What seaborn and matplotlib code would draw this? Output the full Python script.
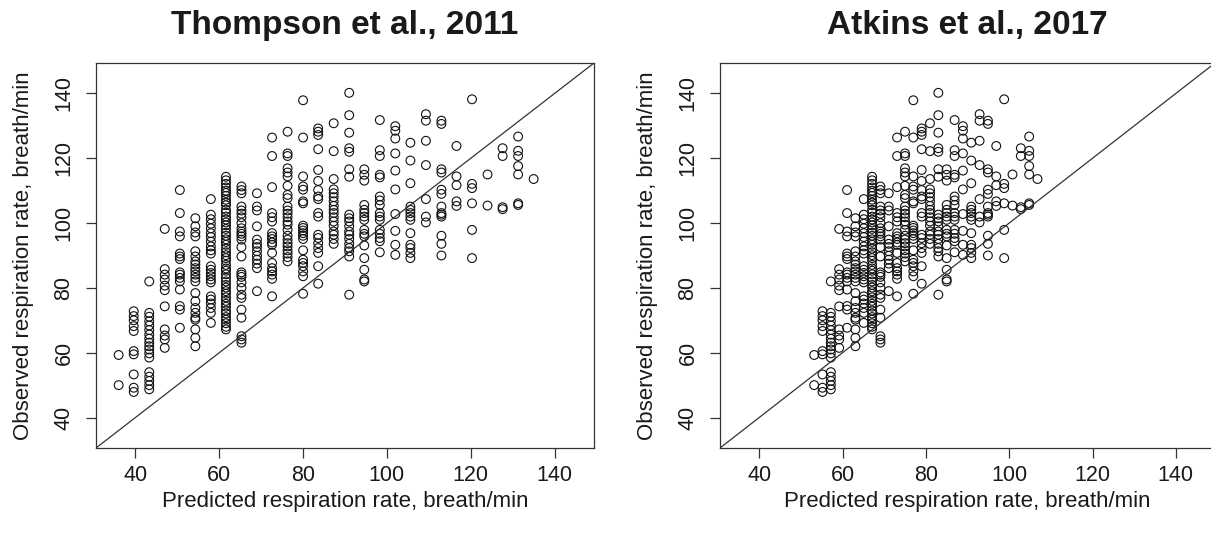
import numpy as np
import pandas as pd
import matplotlib
matplotlib.use("Agg")
import matplotlib.pyplot as plt
import seaborn as sns

# Predicted respiration rate levels (breath/min), one per column of points
thompson_levels = [36.0, 39.6, 43.3, 47.0, 50.6, 54.3, 58.0, 61.6, 65.3, 69.0,
                   72.6, 76.3, 80.0, 83.6, 87.3, 91.0, 94.6, 98.3, 102.0, 105.6,
                   109.3, 113.0, 116.6, 120.3, 124.0, 127.6, 131.3, 135.0]
atkins_levels = [53.2, 55.2, 57.2, 59.2, 61.1, 63.1, 65.1, 67.1, 69.1, 71.1,
                 73.1, 75.0, 77.0, 79.0, 81.0, 83.0, 85.0, 86.9, 88.9, 90.9,
                 92.9, 94.9, 96.9, 98.8, 100.8, 102.8, 104.8, 106.8]
# number of observations at each predicted level
counts = [2, 10, 18, 11, 15, 22, 23, 48, 27, 13, 18, 24, 20, 18, 17, 19, 16, 16,
          10, 13, 7, 13, 5, 6, 2, 4, 7, 1]
# observed respiration rate (breath/min), grouped by level in order
observed = [
    59.3, 50.0,
    72.8, 71.3, 70.0, 68.2, 66.7, 60.5, 59.5, 53.3, 49.2, 47.9,
    82.0, 72.3, 71.1, 69.7, 68.4, 67.0, 65.6, 64.3, 63.1, 62.0, 61.0, 59.8, 58.5,
    54.0, 52.6, 51.3, 50.0, 48.7,
    98.2, 85.8, 84.1, 82.6, 80.7, 79.3, 74.3, 67.2, 65.3, 64.1, 61.5,
    110.2, 103.1, 97.4, 95.9, 90.6, 89.7, 88.9, 84.8, 84.1, 83.1, 82.0, 79.5, 74.4,
    73.3, 67.7,
    101.5, 99.0, 97.1, 95.9, 91.3, 89.7, 88.2, 87.2, 86.1, 85.1, 84.1, 83.1, 82.0,
    78.4, 75.9, 73.8, 72.3, 70.8, 70.2, 67.2, 64.6, 62.0,
    107.4, 102.6, 101.2, 99.8, 98.4, 96.9, 95.7, 94.3, 92.8, 91.6, 90.6, 86.7, 85.6,
    84.6, 83.6, 82.6, 81.7, 77.4, 76.4, 75.2, 73.8, 72.3, 69.2,
    114.3, 113.2, 112.1, 111.0, 110.0, 109.3, 108.4, 107.2, 106.3, 105.5,
    104.1, 103.2, 102.0, 101.1, 100.2, 99.3, 98.2, 97.0, 96.1, 95.0,
    94.2, 93.3, 92.1, 91.0, 90.1, 89.2, 88.4, 87.1, 86.0, 85.3,
    84.2, 83.1, 82.0, 80.9, 80.1, 79.0, 78.2, 77.1, 76.0, 75.1,
    74.2, 73.0, 72.1, 71.0, 70.2, 69.1, 68.0, 67.2,
    111.3, 110.2, 109.2, 105.1, 103.9, 102.9, 101.8, 100.0, 98.4, 97.4,
    96.7, 95.9, 94.9, 92.6, 89.7, 84.8, 84.1, 83.4, 81.7, 80.0,
    77.9, 76.9, 73.3, 70.8, 65.1, 64.1, 63.1,
    109.2, 105.1, 103.9, 99.0, 94.9, 93.6, 92.6, 91.3, 89.9, 88.7, 87.5, 86.1, 79.0,
    126.4, 120.7, 111.1, 103.1, 101.8, 100.5, 96.9, 95.9, 95.1, 94.0,
    93.3, 90.8, 87.7, 86.1, 85.1, 84.1, 82.8, 77.4,
    128.2, 121.5, 120.7, 116.9, 115.6, 114.4, 111.5, 108.7, 107.7, 105.1,
    103.9, 102.9, 101.8, 100.5, 99.5, 97.9, 96.1, 94.9, 93.8, 92.8,
    91.6, 90.6, 89.5, 88.2,
    137.9, 126.4, 114.4, 111.3, 110.3, 106.7, 106.1, 99.2, 98.5, 97.7,
    96.9, 96.1, 95.1, 91.6, 88.7, 87.7, 86.7, 85.1, 83.6, 78.2,
    129.2, 128.2, 127.2, 122.8, 116.4, 113.0, 110.2, 108.2, 107.4, 103.1,
    102.0, 96.4, 95.4, 93.8, 92.3, 90.8, 86.7, 81.3,
    130.8, 122.2, 113.6, 110.4, 109.2, 108.0, 106.7, 105.3, 104.1, 103.1,
    101.8, 100.5, 99.2, 97.4, 96.4, 95.1, 93.6,
    140.2, 133.3, 127.9, 123.1, 122.0, 116.6, 114.3, 102.6, 101.5, 100.5,
    99.0, 97.4, 96.4, 95.1, 93.6, 92.3, 91.3, 89.7, 77.9,
    116.6, 114.9, 113.1, 105.6, 104.1, 103.1, 102.0, 101.0, 97.9, 96.7,
    95.9, 93.1, 89.2, 85.6, 82.6, 82.0,
    131.8, 122.5, 120.7, 114.9, 114.1, 108.2, 107.0, 105.6, 103.1, 102.0,
    101.0, 97.9, 96.7, 95.4, 94.4, 91.0,
    129.9, 128.5, 126.1, 121.5, 116.2, 110.4, 102.8, 97.6, 93.3, 90.2,
    124.8, 119.3, 112.3, 105.1, 104.1, 103.1, 102.0, 101.0, 96.9, 93.3,
    92.3, 90.8, 89.2,
    133.6, 131.6, 125.4, 117.9, 107.4, 102.0, 100.2,
    131.6, 130.6, 116.6, 115.6, 110.3, 109.0, 105.1, 103.1, 102.6, 102.0,
    96.1, 93.6, 90.0,
    123.8, 114.4, 111.7, 106.7, 105.3,
    138.2, 112.1, 110.8, 106.1, 97.9, 89.2,
    115.0, 105.4,
    123.1, 120.7, 104.9, 104.3,
    126.7, 122.3, 120.7, 117.6, 115.0, 106.1, 105.6,
    113.6,
]

titles = ["Thompson et al., 2011", "Atkins et al., 2017"]
ticks = [40, 60, 80, 100, 120, 140]
xlabel = "Predicted respiration rate, breath/min"
ylabel = "Observed respiration rate, breath/min"

assert sum(counts) == len(observed)
df = pd.DataFrame({
    "thompson": np.repeat(thompson_levels, counts),
    "atkins": np.repeat(atkins_levels, counts),
    "observed": observed,
})

sns.set_style("ticks")
plt.rcParams["font.family"] = ["Liberation Sans", "DejaVu Sans"]
plt.rcParams["axes.edgecolor"] = "#333333"
plt.rcParams["axes.linewidth"] = 0.9
plt.rcParams["text.color"] = "#1a1a1a"
plt.rcParams["axes.labelcolor"] = "#1a1a1a"
plt.rcParams["xtick.labelcolor"] = "#1a1a1a"
plt.rcParams["ytick.labelcolor"] = "#1a1a1a"

fig = plt.figure(figsize=(12.11, 5.37), dpi=100)
W, H = 1211, 537
ax_l = fig.add_axes([96 / W, (H - 448) / H, 498 / W, 385 / H])
ax_r = fig.add_axes([720 / W, (H - 448) / H, 495 / W, 385 / H])

for ax, col, title in zip([ax_l, ax_r], ["thompson", "atkins"], titles):
    sns.scatterplot(data=df, x=col, y="observed", ax=ax, marker="o",
                    facecolor="none", edgecolor="#111111", s=40, linewidth=0.8,
                    legend=False)
    ax.axline((40, 40), (140, 140), color="#333333", linewidth=0.9)
    ax.set_xlim(30.6, 149.4)
    ax.set_ylim(30.6, 149.4)
    ax.set_xticks(ticks)
    ax.set_yticks(ticks)
    ax.tick_params(axis="both", direction="out", length=7, width=0.9,
                   color="#333333", labelsize=15.5)
    ax.tick_params(axis="x", pad=5)
    ax.tick_params(axis="y", pad=8.5)
    for lab in ax.get_yticklabels():
        lab.set_rotation(90)
        lab.set_va("center")
    ax.set_xlabel(xlabel, fontsize=16, labelpad=3.5)
    ax.set_ylabel(ylabel, fontsize=16, labelpad=14)
    ax.set_title(title, fontsize=24, fontweight="bold", pad=21)
    for sp in ax.spines.values():
        sp.set_visible(True)

fig.savefig("out.png", dpi=100)
